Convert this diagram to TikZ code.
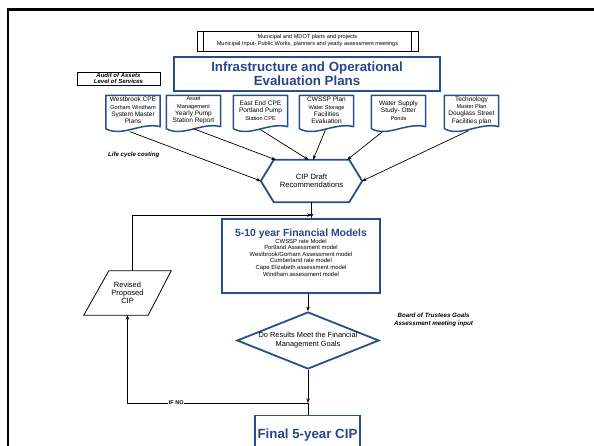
\documentclass[tikz,border=0pt]{standalone}
\usepackage{fontspec}
\setmainfont{Liberation Sans}
\usetikzlibrary{arrows.meta,calc,shapes.geometric,shadows}
\definecolor{bl}{RGB}{40,78,140}
\definecolor{bltxt}{RGB}{40,70,135}
\newcommand\fs[2]{\fontsize{#1}{#2}\selectfont}
\newcommand\docshape[1]{%
  \draw[docline] ($(#1.south west)+(0,3)$) -- (#1.north west) -- (#1.north east) -- ($(#1.south east)+(0,1)$)
   .. controls ($(#1.south west)!0.65!(#1.south east)+(0,-4)$) and ($(#1.south west)!0.3!(#1.south east)+(0,12)$) .. ($(#1.south west)+(0,3)$) -- cycle;}
\begin{document}
\begin{tikzpicture}[x=1pt,y=-1pt,
  conn/.style={draw=black,line width=0.7pt},
  arr/.style={conn,-{Stealth[length=4.5pt,width=3.5pt]}},
  doc/.style={minimum width=54pt,minimum height=30pt,inner sep=0pt,align=center,font=\fs{6.5}{7.3}},
  docline/.style={draw=bl,line width=1.5pt,line join=round},
  bluebox/.style={draw=bl,line width=1.8pt},
  shad/.style={drop shadow={shadow xshift=0.9pt,shadow yshift=-0.9pt,fill=black,opacity=1}},
  note/.style={font=\fs{6.1}{8}\bfseries\itshape,align=center,inner sep=0pt},
  ifno/.style={font=\fs{5.5}{6}\bfseries,fill=white,inner sep=0.6pt}]
\useasboundingbox (0,0) rectangle (594,446);
% frame
\draw[line width=2.4pt] (8,446) -- (8,9.5) -- (594,9.5);
% top input box
\node[draw=black,line width=0.7pt,fill=white,shad,minimum width=221pt,minimum height=20pt,inner sep=0pt,align=center,font=\fs{5.6}{7}] (mun) at (307.5,41)
  {Municipal and MDOT plans and projects\\Municipal Input- Public Works, planners and yearly assessment meetings};
\draw[line width=0.7pt] ($(mun.north west)+(7,0)$) -- ($(mun.south west)+(7,0)$);
\draw[line width=0.7pt] ($(mun.north east)+(-7,0)$) -- ($(mun.south east)+(-7,0)$);
% title
\node[bluebox,minimum width=266pt,minimum height=34pt,inner sep=0pt,align=center,font=\fs{13.3}{14.3}\bfseries\color{bltxt}] (title) at (307,74)
  {Infrastructure and Operational\\Evaluation Plans};
% audit
\node[draw=black,line width=0.6pt,fill=white,shad,minimum width=83pt,minimum height=13pt,inner sep=0pt,align=center,font=\fs{6}{6.2}\bfseries\itshape] (aud) at (118.5,78.5)
  {Audit of Assets\\Level of Services};
% documents
\node[doc] (d1) at (133,110.5) {Westbrook CPE\\{\fs{5.6}{7.3}Gorham Windham}\\System Master\\Plans};
\node[doc] (d2) at (193.5,110.5) {{\fs{5.6}{7.3}Asset}\\{\fs{5.6}{7.3}Management}\\Yearly Pump\\Station Report};
\node[doc] (d3) at (260.5,110.5) {East End CPE\\Portland Pump\\{\fs{5.6}{7.3}Station CPE}};
\node[doc] (d4) at (326.5,110.5) {CWSSP Plan\\{\fs{5.6}{7.3}Water Storage}\\Facilities\\Evaluation};
\node[doc] (d5) at (398.5,110.5) {Water Supply\\Study- Otter\\{\fs{5.6}{7.3}Ponds}};
\node[doc] (d6) at (471.5,110.5) {Technology\\{\fs{5.6}{7.3}Master Plan}\\Douglass Street\\Facilities plan};
\docshape{d1}\docshape{d2}\docshape{d3}\docshape{d4}\docshape{d5}\docshape{d6}
% notes
\node[note,anchor=west] (lcc) at (108,155) {Life cycle costing};
\node[note,font=\fs{6.2}{8}\bfseries\itshape] (bot) at (433.5,320) {Board of Trustees Goals\\Assessment meeting input};
% hexagon
\node[minimum width=101pt,minimum height=42pt,inner sep=0pt,align=center,font=\fs{7.6}{8}] (hex) at (311.5,181) {CIP Draft\\Recommendations};
\draw[bluebox,line join=miter] (hex.west) -- ($(hex.north west)+(13,0)$) -- ($(hex.north east)+(-13,0)$) -- (hex.east)
  -- ($(hex.south east)+(-13,0)$) -- ($(hex.south west)+(13,0)$) -- cycle;
% financial models
\node[bluebox,minimum width=158pt,minimum height=74pt,inner sep=0pt] (fm) at (301,256)
  {\parbox[c][70pt][t]{154pt}{\centering\vspace*{8pt}{\fs{10.4}{11}\bfseries\color{bltxt}5-10 year Financial Models\par}
   \fs{5.9}{6.6}CWSSP rate Model\par Portland Assessment model\par Westbrook/Gorham Assessment model\par
   Cumberland rate model\par Cape Elizabeth assessment model\par Windham assessment model\par}};
% diamond
\node[diamond,draw=bl,line width=1.8pt,minimum width=142pt,minimum height=57pt,inner sep=0pt,aspect=2.5,align=center,font=\fs{7.4}{9}] (dia) at (308,340.5)
  {Do Results Meet the Financial\\Management Goals};
% parallelogram
\node[minimum width=87pt,minimum height=44pt,inner sep=0pt,align=center,font=\fs{7.5}{8.3}] (par) at (127.5,293) {Revised\\Proposed\\CIP};
\draw[line width=0.8pt] ($(par.north west)+(25,0)$) -- (par.north east) -- ($(par.south east)+(-23,0)$) -- (par.south west) -- cycle;
% final
\node[bluebox,minimum width=105pt,minimum height=40pt,inner sep=0pt,font=\fs{13.3}{14}\bfseries\color{bltxt}] (fin) at (307.5,435.5) {Final 5-year CIP};
% connectors
\draw[arr] ($(d1.south)+(-3,6)$) -- (hex.west);
\draw[arr] ($(d2.south)+(0,3)$) -- ($(hex.north west)+(15,0)$);
\draw[arr] ($(d3.south)+(0,4)$) -- ($(hex.north)+(-3,0)$);
\draw[arr] ($(d4.south)+(-1,4)$) -- ($(hex.north)+(1.5,0)$);
\draw[arr] ($(d5.south)+(-16,6)$) -- ($(hex.north east)+(-15,0)$);
\draw[arr] ($(d6.south)+(-3,5)$) -- (hex.east);
\coordinate (j2) at (311.5,215);
\draw[arr] (hex.south) -- (hex.south |- fm.north);
\draw[arr] ($(par.north)+(5,0)$) |- (j2);
\draw[arr] (fm.south -| dia.north) -- (dia.north);
\coordinate (j) at (308,403);
\draw[arr] (dia.south) -- (j);
\draw[conn] (j) -- (j |- fin.north);
\draw[arr] (j) -- (j -| par.south) node[pos=0.73,ifno] (ifn) {IF NO} -- (par.south);
\end{tikzpicture}
\end{document}
